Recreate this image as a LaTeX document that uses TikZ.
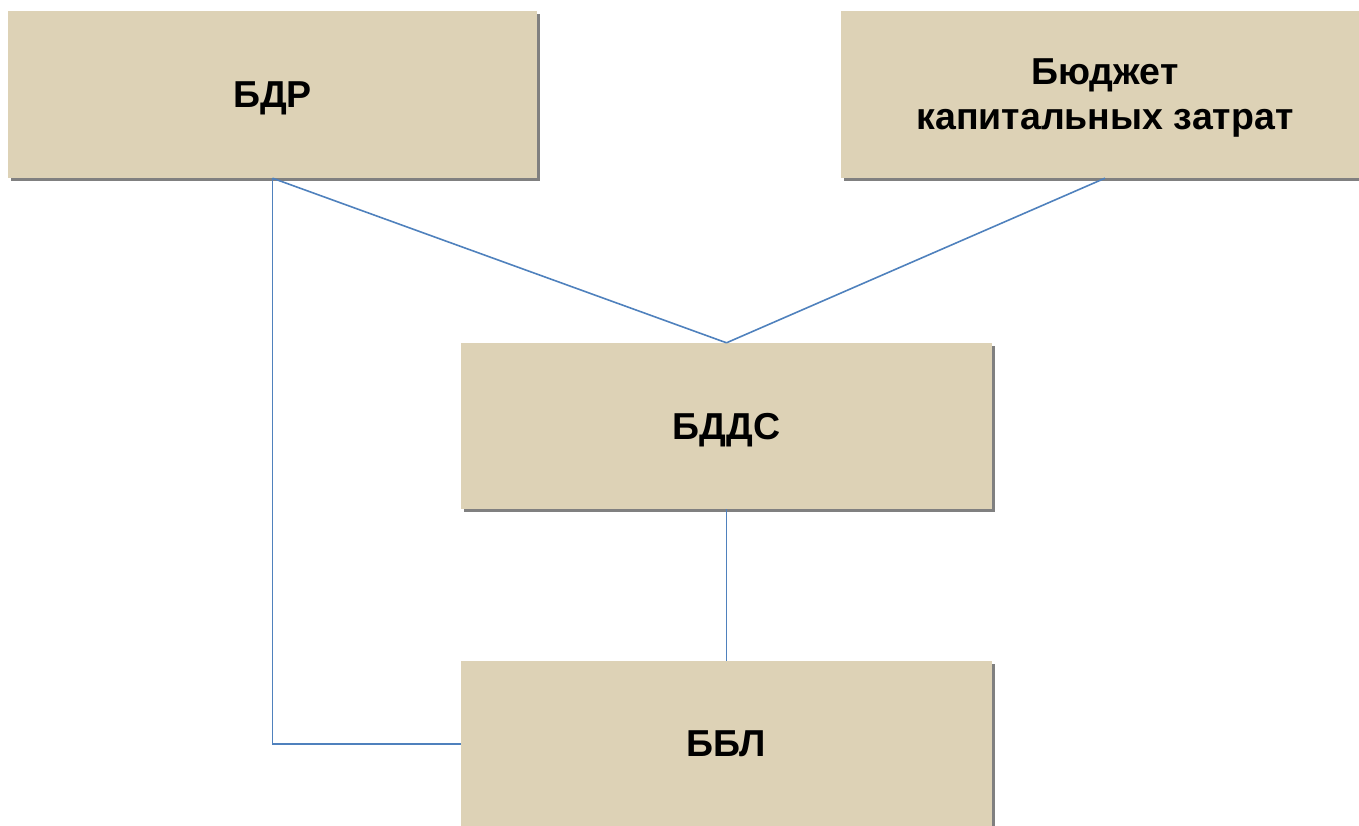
\documentclass[tikz,border=0pt]{standalone}
\usepackage{fontspec}
\setmainfont{Liberation Sans}
\usetikzlibrary{shadows}
\definecolor{boxfill}{HTML}{DDD2B6}
\definecolor{linkblue}{HTML}{4F81BD}
\definecolor{shadowgray}{HTML}{808080}
\begin{document}
\begin{tikzpicture}[x=1pt,y=-1pt,
  budget/.style={rectangle, fill=boxfill, inner sep=0pt, align=center, text depth=0pt,
    font=\fontsize{37.5}{45}\selectfont\bfseries,
    drop shadow={shadow xshift=3pt, shadow yshift=-3pt, fill=shadowgray, opacity=1}},
  link/.style={draw=linkblue, line width=1.6pt}]
\useasboundingbox (0,0) rectangle (1359,825);
\clip (0,0) rectangle (1359,825);
\node[budget, minimum width=529pt, minimum height=167pt] (bdr) at (272.5,94.5) {БДР};
\node[budget, minimum width=528pt, minimum height=167pt] (kap) at (1105,94.5) {Бюджет\\капитальных затрат};
\node[budget, minimum width=531pt, minimum height=166pt] (bdds) at (726.5,426) {БДДС};
\node[budget, minimum width=531pt, minimum height=166pt] (bbl) at (726.5,744) {ББЛ};
\draw[link] (bdr.south) -- (bdds.north);
\draw[link] (kap.south) -- (bdds.north);
\draw[link] (bdds.south) -- (bbl.north);
\draw[link] (bdr.south) |- (bbl.west);
\end{tikzpicture}
\end{document}
